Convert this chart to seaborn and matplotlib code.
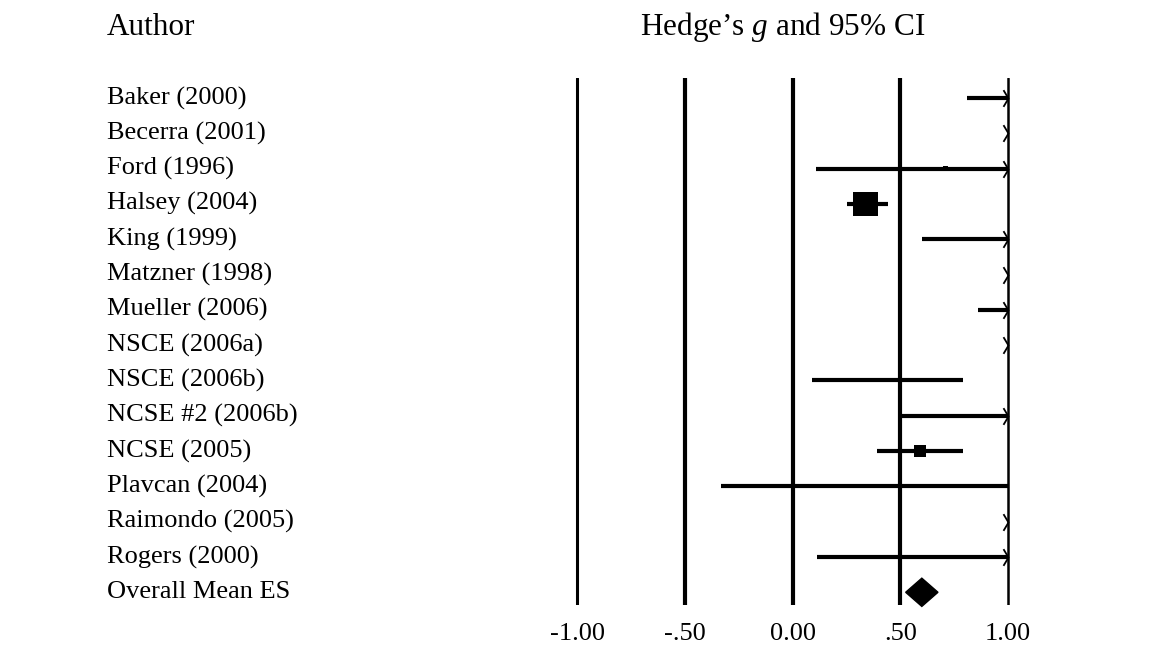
import numpy as np
import pandas as pd
import seaborn as sns
import matplotlib.pyplot as plt
from matplotlib.path import Path

# study data (Hedge's g with 95% CI)
authors = ['Baker (2000)', 'Becerra (2001)', 'Ford (1996)', 'Halsey (2004)', 'King (1999)',
           'Matzner (1998)', 'Mueller (2006)', 'NSCE (2006a)', 'NSCE (2006b)', 'NCSE #2 (2006b)',
           'NCSE (2005)', 'Plavcan (2004)', 'Raimondo (2005)', 'Rogers (2000)']
g = [1.45, 1.65, 0.71, 0.34, 1.20, 1.72, 1.28, 1.60, 0.44, 0.95, 0.59, 0.33, 1.55, 0.86]
lower = [0.81, 1.10, 0.11, 0.255, 0.60, 1.15, 0.86, 1.12, 0.09, 0.50, 0.39, -0.33, 1.10, 0.115]
upper = [2.10, 2.20, 1.30, 0.445, 1.80, 2.30, 1.70, 2.10, 0.79, 1.40, 0.79, 1.00, 2.00, 1.60]
weight = [0, 0, 3, 100, 0, 0, 0, 0, 0, 0, 23, 0, 0, 0]

overall_label = 'Overall Mean ES'
overall_g = 0.60
overall_lower = 0.525
overall_upper = 0.675

ticks = [-1.0, -0.5, 0.0, 0.5, 1.0]
tick_labels = ['-1.00', '-.50', '0.00', '.50', '1.00']

sns.set_style('white')
plt.rcParams['font.family'] = ['Liberation Serif', 'DejaVu Serif']
plt.rcParams['mathtext.fontset'] = 'custom'
plt.rcParams['mathtext.rm'] = 'Liberation Serif'
plt.rcParams['mathtext.it'] = 'Liberation Serif:italic'
plt.rcParams['text.color'] = 'black'
plt.rcParams['xtick.color'] = 'black'

df = pd.DataFrame({'author': authors, 'g': g, 'lower': lower, 'upper': upper, 'weight': weight})
df['row'] = np.arange(len(df))
overall_row = len(df)

fig = plt.figure(figsize=(11.6, 6.71), dpi=100)
ax = fig.add_axes([560 / 1160, 66 / 671, 470 / 1160, 527 / 671])

# reference lines
for t, lw in zip(ticks, [2.2, 3.0, 3.0, 3.0, 1.8]):
    ax.axvline(t, color='black', lw=lw, zorder=1)

# confidence intervals, truncated at the axis limits
chevron = Path([(-0.6, 1.0), (0, 0), (-0.6, -1.0)], [Path.MOVETO, Path.LINETO, Path.LINETO])
for _, r in df.iterrows():
    x0 = max(r['lower'], -1.0)
    x1 = min(r['upper'], 1.0)
    if x0 < x1:
        ax.hlines(r['row'], x0, x1, color='black', lw=3, zorder=2)
    if r['upper'] > 1.0:
        ax.plot(1.0, r['row'], marker=chevron, ms=12, mfc='none', mec='black', mew=1.3,
                zorder=3, clip_on=False)

# point estimates (box area ~ weight)
vis = df[(df['g'] >= -1) & (df['g'] <= 1) & (df['weight'] > 0)]
sns.scatterplot(data=vis, x='g', y='row', marker='s', s=vis['weight'] * 3.2,
                color='black', edgecolor='none', ax=ax, zorder=4, legend=False)

# overall effect diamond
h = 0.4
ax.fill([overall_lower, overall_g, overall_upper, overall_g],
        [overall_row, overall_row - h, overall_row, overall_row + h],
        color='black', zorder=4, clip_on=False)

ax.set_xlim(-1.079, 1.102)
ax.set_ylim(14.36, -0.567)
ax.set_xlabel('')
ax.set_ylabel('')
ax.set_yticks([])
ax.set_xticks(ticks, tick_labels)
ax.tick_params(axis='x', length=0, pad=13, labelsize=19, labelcolor='black')
sns.despine(ax=ax, left=True, bottom=True)

# study labels
tr = ax.get_yaxis_transform()
for name, row in zip(df['author'], df['row']):
    ax.text(-0.964, row, name, transform=tr, ha='left', va='center', fontsize=19)
ax.text(-0.964, overall_row, overall_label, transform=tr, ha='left', va='center', fontsize=19)

# column headers
fig.text(107 / 1160, 1 - 35 / 671, 'Author', fontsize=22.5, ha='left', va='baseline')
fig.text(640 / 1160, 1 - 35 / 671, 'Hedge\u2019s $g$ and 95% CI', fontsize=22.5,
         ha='left', va='baseline')

fig.savefig('out.png', dpi=100)
